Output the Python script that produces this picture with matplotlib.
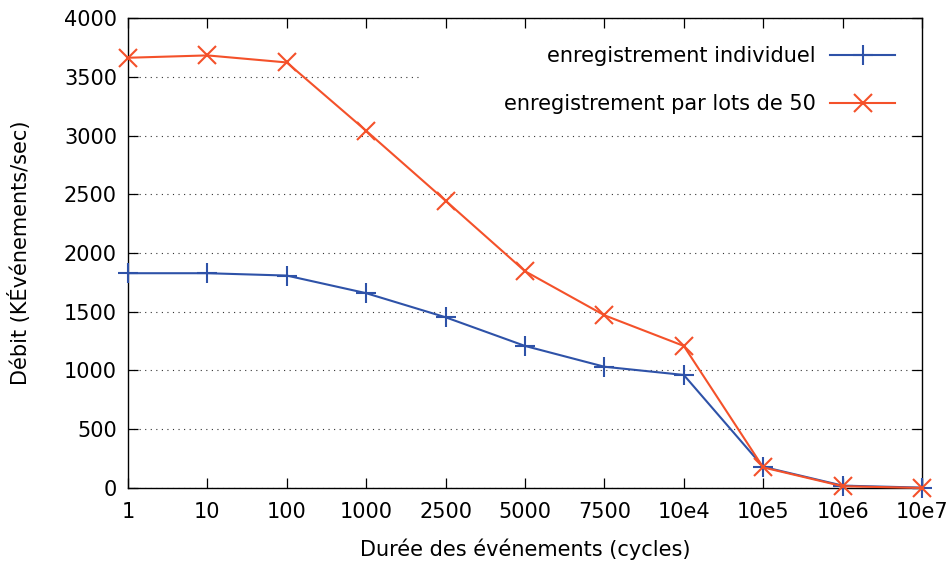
import matplotlib
matplotlib.use("Agg")
import matplotlib.pyplot as plt
from matplotlib.patches import Rectangle

# data
durations = ["1", "10", "100", "1000", "2500", "5000", "7500",
             "10e4", "10e5", "10e6", "10e7"]
individual = [1828, 1828, 1808, 1658, 1453, 1209, 1032, 962, 180, 20, 3]
batch_50 = [3662, 3682, 3622, 3040, 2445, 1845, 1470, 1209, 175, 15, 0]
y_ticks = [0, 500, 1000, 1500, 2000, 2500, 3000, 3500, 4000]

BLUE = "#2e52a8"
RED = "#f4512a"
FS = 15

plt.rcParams["font.family"] = ["DejaVu Sans"]

fig = plt.figure(figsize=(9.51, 5.64), dpi=100)
ax = fig.add_axes([0.1346, 0.1348, 0.9695 - 0.1346, 0.968 - 0.1348])

x = list(range(len(durations)))
ax.plot(x, individual, color=BLUE, lw=1.5, marker="+", markersize=14,
        markeredgewidth=1.5, label="enregistrement individuel",
        clip_on=False, zorder=3)
ax.plot(x, batch_50, color=RED, lw=1.5, marker="x", markersize=13,
        markeredgewidth=1.5, label="enregistrement par lots de 50",
        clip_on=False, zorder=4)

ax.set_xlim(0, len(durations) - 1)
ax.set_ylim(0, 4000)
ax.set_xticks(x)
ax.set_xticklabels(durations)
ax.set_yticks(y_ticks)

ax.set_axisbelow(True)
ax.yaxis.grid(True, color="#333333", lw=0.8, linestyle=(0, (1, 4)))
ax.tick_params(direction="in", length=7, width=0.9, top=True, right=True,
               labelsize=FS, colors="black")
ax.tick_params(axis="x", pad=10)
ax.tick_params(axis="y", pad=8)
for s in ax.spines.values():
    s.set_linewidth(1.0)

# white key background hides the grid behind the legend like gnuplot
ax.add_patch(Rectangle((0.366, 0.80), 0.634, 0.17, transform=ax.transAxes,
                       facecolor="white", edgecolor="none", zorder=1))

ax.legend(loc="upper right", frameon=False, markerfirst=False,
          fontsize=FS, handlelength=3.1, handletextpad=0.7,
          labelspacing=1.35, borderaxespad=0.9, bbox_to_anchor=(1.0, 0.998))

ax.set_xlabel("Durée des événements (cycles)", fontsize=FS, labelpad=12)
ax.set_ylabel("Débit (KÉvénements/sec)", fontsize=FS, labelpad=24)

fig.savefig("out.png", dpi=100, facecolor="white")
